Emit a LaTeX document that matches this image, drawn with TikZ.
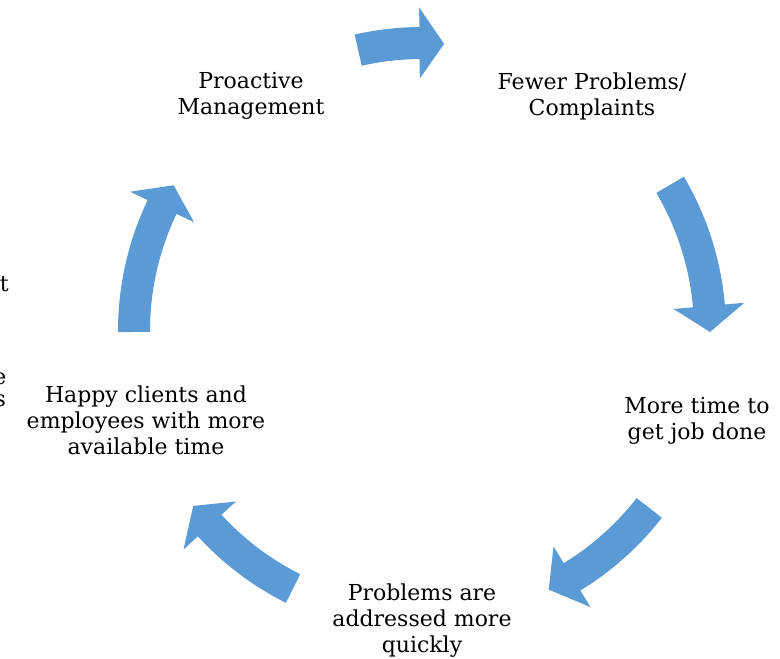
\documentclass[tikz,border=0pt]{standalone}
\usepackage{fontspec}
\setmainfont{DejaVu Serif}
\definecolor{cycblue}{HTML}{5B9BD5}
\newcommand{\cycarrow}[3]{%
  \fill[cycblue,shift={(422pt,328pt)}]
    (#1:304pt) arc[start angle=#1, end angle=#2, radius=304pt]
    -- (#2:323.5pt) -- (#3:288pt) -- (#2:252.5pt) -- (#2:272pt)
    arc[start angle=#2, end angle=#1, radius=272pt] -- cycle;}
\begin{document}
\begin{tikzpicture}[x=1pt,y=1pt,
  lbl/.style={align=center,font=\fontsize{22}{26}\selectfont,text=black,inner sep=0pt},
  frag/.style={font=\fontsize{22}{26}\selectfont,text=black,inner sep=0pt,anchor=base east}]
\useasboundingbox (0,0) rectangle (780,659);
\fill[white] (0,0) rectangle (780,659);
\begin{scope}
\clip (0,0) rectangle (780,659);
\node[frag] (f1) at (9,367) {t};
\node[frag] (f2) at (6.5,274) {e};
\node[frag] (f3) at (6,252) {s};
\end{scope}
\node[lbl] (n1) at (251,563) {Proactive\\Management};
\node[lbl] (n2) at (592,563) {Fewer Problems/\\Complaints};
\node[lbl] (n3) at (697,238) {More time to\\get job done};
\node[lbl] (n4) at (422,38) {Problems are\\addressed more\\quickly};
\node[lbl] (n5) at (146,239) {Happy clients and\\employees with more\\available time};
\cycarrow{102.8}{90.5}{85.6}
\cycarrow{30.5}{5}{-0.2}
\cycarrow{-37.9}{-58.6}{-63.9}
\cycarrow{-116.6}{-137.5}{-142.6}
\cycarrow{180.2}{154.5}{149.6}
\end{tikzpicture}
\end{document}
